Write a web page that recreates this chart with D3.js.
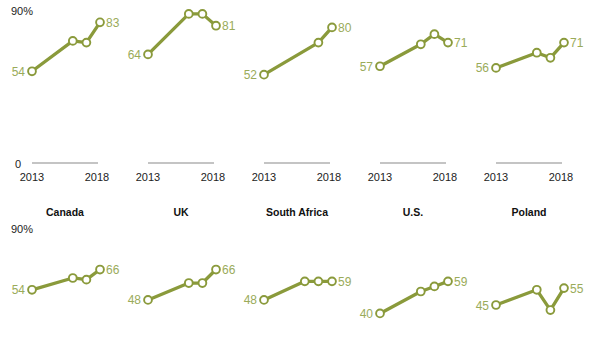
<!DOCTYPE html>
<html><head><meta charset="utf-8">
<script src="https://cdn.jsdelivr.net/npm/d3@7"></script>
<style>body{margin:0;background:#fff;}svg{display:block;font-family:"Liberation Sans",Arial,sans-serif;}</style>
</head><body>
<svg id="c" width="600" height="337"></svg>
<script>
const countries = ["Canada", "UK", "South Africa", "U.S.", "Poland"];
const yearTicks = [2013, 2018];
const topYears = [
  [2013, 2016, 2017, 2018],
  [2013, 2016, 2017, 2018],
  [2013, 2017, 2018],
  [2013, 2016, 2017, 2018],
  [2013, 2016, 2017, 2018]
];
const topValues = [
  [54, 72, 71, 83],
  [64, 88, 88, 81],
  [52, 71, 80],
  [57, 70, 76, 71],
  [56, 65, 62, 71]
];
const bottomYears = [
  [2013, 2016, 2017, 2018],
  [2013, 2016, 2017, 2018],
  [2013, 2016, 2017, 2018],
  [2013, 2016, 2017, 2018],
  [2013, 2016, 2017, 2018]
];
const bottomValues = [
  [54, 61, 60, 66],
  [48, 58, 58, 66],
  [48, 59, 59, 59],
  [40, 53, 56, 59],
  [45, 54, 42, 55]
];
const yTickLabels = ["0", "90%"];

const svg = d3.select("#c");
const lineColor = "#8a9a3b", labelColor = "#9aab5a";
const panelX = d3.scalePoint().domain(countries).range([32, 496]);
const panelW = 68;

function drawRow(years, values, y, showBase) {
  countries.forEach((c, i) => {
    const x0 = panelX(c);
    const x = d3.scaleLinear().domain([2013, 2018]).range([x0, x0 + panelW]);
    const g = svg.append("g");
    if (showBase) {
      g.append("line").attr("x1", x(2013)).attr("x2", x(2018) - 2)
        .attr("y1", y(0) + 0.5).attr("y2", y(0) + 0.5).attr("stroke", "#b0b0b0").attr("stroke-width", 1.5);
      yearTicks.forEach((yr, k) => {
        g.append("text").attr("x", x(yr) + (k === 0 ? 0 : -3)).attr("y", y(0) + 18.5)
          .attr("text-anchor", "middle").attr("font-size", 11).attr("fill", "#222").text(yr);
      });
    }
    const pts = years[i].map((yr, k) => [x(yr), y(values[i][k])]);
    g.append("path").attr("d", d3.line()(pts)).attr("fill", "none")
      .attr("stroke", lineColor).attr("stroke-width", 3.3).attr("stroke-linejoin", "round");
    g.selectAll("circle").data(pts).join("circle")
      .attr("cx", d => d[0]).attr("cy", d => d[1]).attr("r", 3.9)
      .attr("fill", "#fff").attr("stroke", lineColor).attr("stroke-width", 1.9);
    const v = values[i], p = pts;
    g.append("text").attr("x", p[0][0] - 7).attr("y", p[0][1] + 4.5)
      .attr("text-anchor", "end").attr("font-size", 12).attr("fill", labelColor).text(v[0]);
    g.append("text").attr("x", p[p.length - 1][0] + 6).attr("y", p[p.length - 1][1] + 4.5)
      .attr("text-anchor", "start").attr("font-size", 12).attr("fill", labelColor).text(v[v.length - 1]);
  });
}

const yTop = d3.scaleLinear().domain([0, 90]).range([162.5, 10.5]);
const yBot = d3.scaleLinear().domain([0, 90]).range([381, 229]);

svg.append("text").attr("x", 11).attr("y", yTop(90) + 4).attr("font-size", 11).attr("fill", "#222").text(yTickLabels[1]);
svg.append("text").attr("x", 15).attr("y", yTop(0) + 5).attr("font-size", 11).attr("fill", "#222").text(yTickLabels[0]);
svg.append("text").attr("x", 11).attr("y", yBot(90) + 4).attr("font-size", 11).attr("fill", "#222").text(yTickLabels[1]);

drawRow(topYears, topValues, yTop, true);

countries.forEach(c => {
  svg.append("text").attr("x", panelX(c) + panelW / 2 - 1).attr("y", 216)
    .attr("text-anchor", "middle").attr("font-size", 10.5).attr("font-weight", "bold")
    .attr("fill", "#111").text(c);
});

drawRow(bottomYears, bottomValues, yBot, false);
</script>
</body></html>
